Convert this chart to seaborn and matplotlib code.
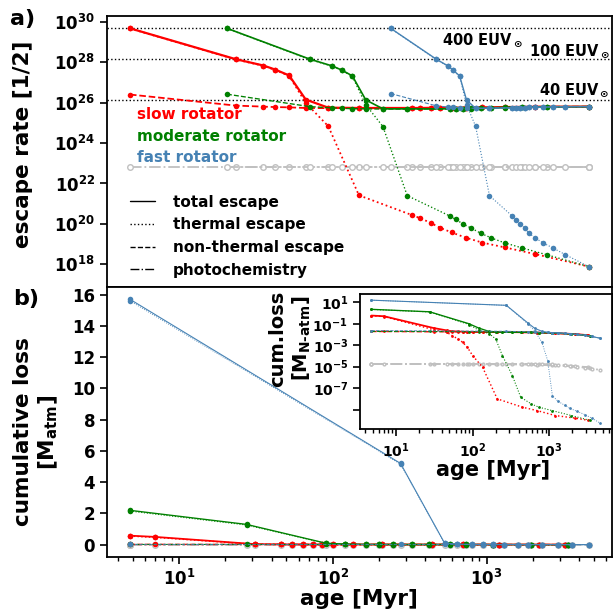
import matplotlib
matplotlib.use('Agg')
import matplotlib.pyplot as plt
from matplotlib.lines import Line2D
from matplotlib.ticker import NullLocator
import seaborn as sns

# ---- escape rates (top panel) ----
slow_age = [4.8, 23.4, 35.4, 42.2, 52, 66.8, 93.5, 148, 329, 372, 436, 495, 593, 731, 936, 1315, 2080, 4610]
slow_tot = [4.7e29, 1.4e28, 6.8e27, 4.3e27, 2.2e27, 1.4e26, 5.6e25, 5.4e25, 5.4e25, 5.4e25, 5.5e25, 5.5e25,
            5.6e25, 5.6e25, 5.8e25, 6.0e25, 6.2e25, 6.3e25]
slow_th = [4.6e29, 1.35e28, 6.6e27, 4.1e27, 2.1e27, 9.5e25, 6.8e24, 2.6e21, 2.7e20, 1.9e20, 1.1e20, 6.6e19,
           3.8e19, 2.1e19, 1.2e19, 6.9e18, 3.2e18, 7.8e17]
slow_nt = [2.5e26, 7.1e25, 6.3e25, 6.0e25, 5.8e25, 5.4e25, 5.3e25, 5.3e25, 5.3e25, 5.4e25, 5.4e25, 5.5e25,
           5.5e25, 5.6e25, 5.8e25, 6.0e25, 6.2e25, 6.3e25]
slow_ph = [6.5e22, 6.5e22, 6.5e22, 6.5e22, 6.5e22, 6.5e22, 6.5e22, 6.5e22, 6.5e22, 6.5e22, 6.5e22, 6.5e22,
           6.5e22, 6.5e22, 6.5e22, 6.5e22, 6.5e22, 6.5e22]

mod_age = [20.5, 71, 99, 114, 134, 164, 212, 305, 575, 629, 702, 791, 914, 1077, 1315, 1703, 2455, 4610]
mod_tot = [4.7e29, 1.4e28, 6.5e27, 4.1e27, 2.1e27, 1.35e26, 4.9e25, 4.9e25, 4.9e25, 5.0e25, 5.0e25, 5.1e25,
           5.3e25, 5.5e25, 5.8e25, 6.0e25, 6.2e25, 6.3e25]
mod_th = [4.6e29, 1.35e28, 6.3e27, 4.0e27, 2.0e27, 7.8e25, 6.5e24, 2.5e21, 2.5e20, 1.7e20, 1.0e20, 6.3e19,
          3.5e19, 2.0e19, 1.15e19, 6.5e18, 3.0e18, 7.8e17]
mod_nt = [2.6e26, 6.3e25, 5.5e25, 5.2e25, 5.0e25, 4.9e25, 4.8e25, 4.8e25, 4.8e25, 4.9e25, 5.0e25, 5.0e25,
          5.2e25, 5.4e25, 5.7e25, 5.9e25, 6.1e25, 6.3e25]
mod_ph = [6.5e22, 6.5e22, 6.5e22, 6.5e22, 6.5e22, 6.5e22, 6.5e22, 6.5e22, 6.5e22, 6.5e22, 6.5e22, 6.5e22,
          6.5e22, 6.5e22, 6.5e22, 6.5e22, 6.5e22, 6.5e22]

fast_age = [238, 471, 561, 604, 668, 741, 849, 1045, 1466, 1556, 1644, 1774, 1883, 2080, 2332, 2700, 3260, 4610]
fast_tot = [4.7e29, 1.4e28, 6.5e27, 4.1e27, 2.1e27, 1.35e26, 5.2e25, 5.3e25, 5.5e25, 5.6e25, 5.6e25, 5.7e25,
            5.8e25, 5.9e25, 6.0e25, 6.1e25, 6.2e25, 6.3e25]
fast_th = [4.6e29, 1.35e28, 6.3e27, 4.0e27, 2.0e27, 7.8e25, 6.8e24, 2.5e21, 2.5e20, 1.6e20, 1.0e20, 6.3e19,
           3.5e19, 2.0e19, 1.15e19, 6.5e18, 3.0e18, 7.8e17]
fast_nt = [2.8e26, 6.9e25, 6.0e25, 5.8e25, 5.6e25, 5.4e25, 5.2e25, 5.3e25, 5.5e25, 5.6e25, 5.6e25, 5.7e25,
           5.8e25, 5.9e25, 6.0e25, 6.1e25, 6.2e25, 6.3e25]
fast_ph = [6.5e22, 6.5e22, 6.5e22, 6.5e22, 6.5e22, 6.5e22, 6.5e22, 6.5e22, 6.5e22, 6.5e22, 6.5e22, 6.5e22,
           6.5e22, 6.5e22, 6.5e22, 6.5e22, 6.5e22, 6.5e22]

euv_levels = [4.7e29, 1.4e28, 1.4e26]
euv_labels = ['400 EUV$_\\odot$', '100 EUV$_\\odot$', '40 EUV$_\\odot$']
euv_label_x = [515, 1884, 2190]
euv_label_y = [1.26e29, 3.5e28, 4.3e26]

# ---- cumulative loss (bottom panel + inset) ----
slow_cage = [4.8, 7.0, 31, 46, 54, 64, 74, 85, 100, 135, 210, 445, 700, 1200, 2200, 3240]
slow_ctot = [0.58, 0.50, 0.040, 0.024, 0.020, 0.019, 0.018, 0.018, 0.017, 0.017, 0.017, 0.016, 0.015, 0.013,
             0.011, 0.0085]
slow_cth = [0.55, 0.47, 0.028, 0.016, 0.008, 0.004, 1.9e-3, 7e-4, 1.1e-4, 9e-6, 1.0e-8, 1.7e-9, 8e-10, 2.8e-10,
            1.6e-10, 1.0e-10]
slow_cnt = [0.019, 0.019, 0.018, 0.018, 0.018, 0.018, 0.018, 0.018, 0.017, 0.017, 0.017, 0.016, 0.015, 0.013,
            0.011, 0.0085]
slow_cph = [1.8e-5, 1.8e-5, 1.8e-5, 1.8e-5, 1.8e-5, 1.8e-5, 1.8e-5, 1.8e-5, 1.8e-5, 1.7e-5, 1.7e-5, 1.6e-5,
            1.5e-5, 1.3e-5, 1.1e-5, 9e-6]

mod_cage = [4.8, 27.5, 90, 120, 165, 200, 245, 330, 425, 580, 730, 1100, 1950, 3400]
mod_ctot = [2.2, 1.3, 0.10, 0.040, 0.019, 0.017, 0.016, 0.016, 0.016, 0.016, 0.015, 0.014, 0.011, 0.0075]
mod_cth = [2.15, 1.26, 0.085, 0.025, 0.012, 3.9e-3, 1.1e-4, 1.5e-6, 1.4e-8, 3.5e-9, 1.7e-9, 8e-10, 2.8e-10, 1.0e-10]
mod_cnt = [0.019, 0.019, 0.018, 0.018, 0.017, 0.017, 0.016, 0.016, 0.016, 0.016, 0.015, 0.014, 0.011, 0.0075]
mod_cph = [1.8e-5, 1.8e-5, 1.8e-5, 1.8e-5, 1.8e-5, 1.8e-5, 1.8e-5, 1.8e-5, 1.8e-5, 1.7e-5, 1.6e-5, 1.4e-5,
           1.1e-5, 8e-6]

fast_cage = [4.8, 276, 533, 645, 800, 955, 1100, 1300, 1600, 1860, 2300, 2900, 3600, 4610]
fast_ctot = [15.7, 5.2, 0.11, 0.038, 0.020, 0.016, 0.015, 0.014, 0.013, 0.012, 0.010, 0.0085, 0.0065, 0.0045]
fast_cth = [15.6, 5.15, 0.09, 0.022, 2e-3, 3.7e-5, 2e-8, 6e-9, 2.5e-9, 1.3e-9, 7e-10, 3.5e-10, 1.6e-10, 5.5e-11]
fast_cnt = [0.023, 0.020, 0.018, 0.017, 0.016, 0.016, 0.015, 0.014, 0.013, 0.012, 0.010, 0.0085, 0.0065, 0.0045]
fast_cph = [1.8e-5, 1.8e-5, 1.8e-5, 1.8e-5, 1.7e-5, 1.7e-5, 1.6e-5, 1.5e-5, 1.4e-5, 1.2e-5, 1.0e-5, 8e-6,
            6.5e-6, 5e-6]

rotator_names = ['slow rotator', 'moderate rotator', 'fast rotator']
rotator_colors = ['red', 'green', 'steelblue']
rotator_lw = [1.6, 1.2, 1.0]

sns.set_style('ticks')
plt.rcParams.update({
    'font.family': ['DejaVu Sans'],
    'font.weight': 'bold',
    'axes.labelweight': 'bold',
    'text.color': 'black',
    'axes.labelcolor': 'black',
    'axes.linewidth': 1.3,
    'axes.edgecolor': 'black',
    'xtick.color': 'black',
    'ytick.color': 'black',
    'xtick.labelsize': 12,
    'ytick.labelsize': 12,
    'xtick.major.size': 5,
    'ytick.major.size': 5,
    'xtick.minor.size': 3,
    'xtick.major.width': 1.2,
    'ytick.major.width': 1.2,
    'xtick.minor.width': 1.0,
})


def draw_rotator(ax, age, tot, th, nt, ph, color, lw, ms):
    common = dict(ax=ax, marker='o', markersize=ms, sort=False)
    # photochemistry first so the coloured curves sit on top of it
    sns.lineplot(x=age, y=ph, color='silver', linewidth=1.3, linestyle='-.', zorder=1.5,
                 markerfacecolor='white', markeredgecolor='silver', markeredgewidth=1.0, **common)
    sns.lineplot(x=age, y=tot, color=color, linewidth=lw, linestyle='-',
                 markeredgecolor=color, markeredgewidth=0, **common)
    sns.lineplot(x=age, y=th, color=color, linewidth=lw * 0.8, linestyle=':',
                 markeredgecolor=color, markeredgewidth=0, **common)
    sns.lineplot(x=age, y=nt, color=color, linewidth=lw * 0.8, linestyle='--',
                 markeredgecolor=color, markeredgewidth=0, **common)


fig = plt.figure(figsize=(6.13, 6.09), dpi=100)
ax1 = fig.add_axes([0.1746, 0.5287, 0.823, 0.445])
ax2 = fig.add_axes([0.1746, 0.0854, 0.823, 0.4433], sharex=ax1)
ax3 = fig.add_axes([0.5873, 0.2951, 0.4103, 0.2221])

for ax in (ax1, ax2, ax3):
    ax.set_xscale('log')
ax1.set_yscale('log')
ax3.set_yscale('log')

rate_sets = [(slow_age, slow_tot, slow_th, slow_nt, slow_ph),
             (mod_age, mod_tot, mod_th, mod_nt, mod_ph),
             (fast_age, fast_tot, fast_th, fast_nt, fast_ph)]
cum_sets = [(slow_cage, slow_ctot, slow_cth, slow_cnt, slow_cph),
            (mod_cage, mod_ctot, mod_cth, mod_cnt, mod_cph),
            (fast_cage, fast_ctot, fast_cth, fast_cnt, fast_cph)]

for lev in euv_levels:
    ax1.axhline(lev, color='black', linestyle=':', linewidth=1.0, zorder=0)

for (data, cdata, c, lw) in zip(rate_sets, cum_sets, rotator_colors, rotator_lw):
    draw_rotator(ax1, *data, color=c, lw=lw, ms=4)
    draw_rotator(ax2, *cdata, color=c, lw=lw * 0.8, ms=4)
    draw_rotator(ax3, *cdata, color=c, lw=lw * 0.8, ms=2)

for lab, x, y in zip(euv_labels, euv_label_x, euv_label_y):
    ax1.text(x, y, lab, fontsize=10.5, fontweight='bold', ha='left', va='center')

# top panel
ax1.set_ylim(10 ** 16.88, 10 ** 30.28)
ax1.set_yticks([1e18, 1e20, 1e22, 1e24, 1e26, 1e28, 1e30])
ax1.yaxis.set_minor_locator(NullLocator())
ax1.tick_params(labelbottom=False)
ax1.set_ylabel('escape rate [1/2]', fontsize=15.5)
ax1.yaxis.set_label_coords(-0.147, 0.528)

ypos = [0.637, 0.557, 0.479]
for name, c, yy in zip(rotator_names, rotator_colors, ypos):
    ax1.text(0.059, yy, name, color=c, fontsize=11, fontweight='bold', transform=ax1.transAxes, va='center')

handles = [Line2D([], [], color='black', linestyle=ls, linewidth=1.0) for ls in ['-', ':', '--', '-.']]
ax1.legend(handles, ['total escape', 'thermal escape', 'non-thermal escape', 'photochemistry'],
           loc='center left', bbox_to_anchor=(0.034, 0.188), borderaxespad=0, frameon=False,
           fontsize=11, handlelength=1.6, handletextpad=1.2, labelspacing=0.5)

# bottom panel
ax2.set_yticks([0, 2, 4, 6, 8, 10, 12, 14, 16])
ax2.set_xlabel('age [Myr]', fontsize=15.5)
ax2.xaxis.set_label_coords(0.5, -0.118)
ax2.set_ylabel('cumulative loss\n[M$_\\mathbf{atm}$]', fontsize=15.5)
ax2.yaxis.set_label_coords(-0.093, 0.463)

# inset
ax3.set_facecolor('white')
ax3.set_yticks([1e1, 1e-1, 1e-3, 1e-5, 1e-7, 1e-9])
ax3.set_yticklabels(['$\\mathdefault{10^{1}}$', '$\\mathdefault{10^{-1}}$', '$\\mathdefault{10^{-3}}$',
                     '$\\mathdefault{10^{-5}}$', '$\\mathdefault{10^{-7}}$', ''])
ax3.yaxis.set_minor_locator(NullLocator())
ax3.tick_params(labelsize=10)
ax3.set_xlabel('age [Myr]', fontsize=15)
ax3.xaxis.set_label_coords(0.528, -0.225)
ax3.set_ylabel('cum.loss\n[M$_\\mathbf{N\\text{-}atm}$]', fontsize=14)
ax3.yaxis.set_label_coords(-0.187, 0.67)

fig.text(0.016, 0.969, 'a)', fontsize=16, fontweight='bold', va='center')
fig.text(0.022, 0.509, 'b)', fontsize=16, fontweight='bold', va='center')

fig.savefig('out.png', dpi=100)
